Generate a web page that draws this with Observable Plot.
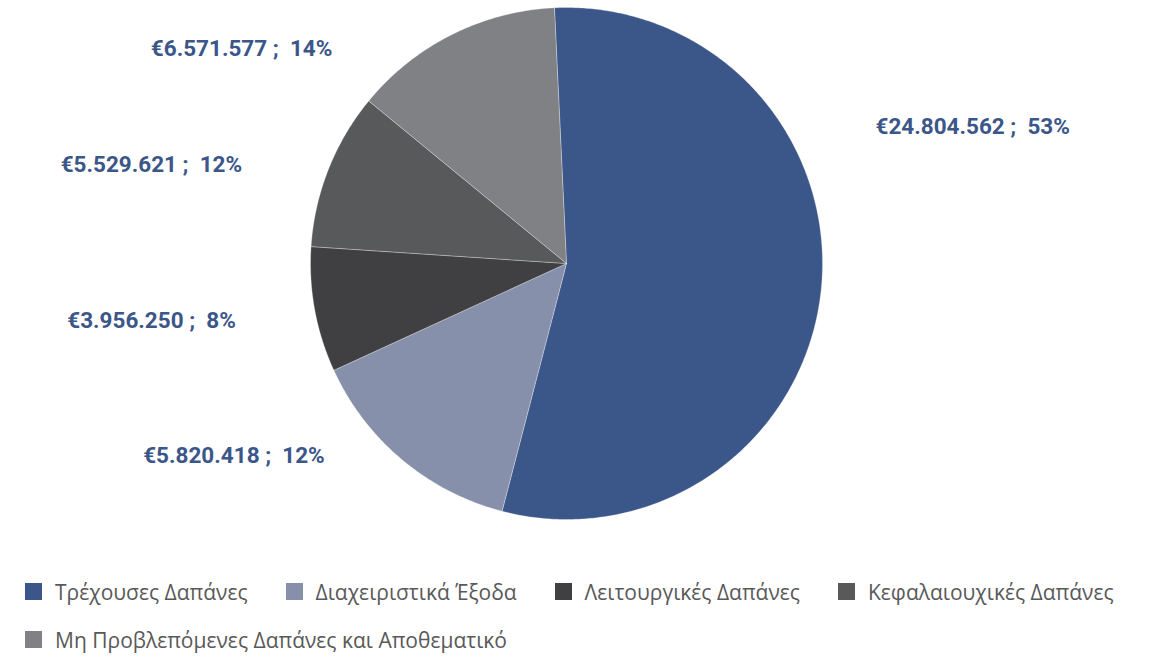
<!DOCTYPE html>
<html>
<head>
<meta charset="utf-8">
<script src="https://cdn.jsdelivr.net/npm/d3@7"></script>
<script src="https://cdn.jsdelivr.net/npm/@observablehq/plot@0.6"></script>
<style>
  html, body { margin: 0; padding: 0; background: #fff; }
  #chart { position: relative; width: 1149px; height: 658px; overflow: hidden; }
  #legend {
    position: absolute; left: 25px; top: 578px; width: 1120px;
    display: flex; flex-wrap: wrap; column-gap: 38px; row-gap: 21px;
    font-family: "Open Sans", "Noto Sans", sans-serif; font-size: 21px; color: #595959;
  }
  .item { display: flex; align-items: center; white-space: nowrap; height: 27px; }
  .sw { width: 17px; height: 17px; margin-right: 13px; }
</style>
</head>
<body>
<div id="chart"><div id="plot"></div><div id="legend"></div></div>
<script>
// Categories (clockwise from top)
const categories = [
  "Τρέχουσες Δαπάνες",
  "Διαχειριστικά Έξοδα",
  "Λειτουργικές Δαπάνες",
  "Κεφαλαιουχικές Δαπάνες",
  "Μη Προβλεπόμενες Δαπάνες και Αποθεματικό"
];
// Amounts and percentages as printed on the labels
const amounts = [24804562, 5820418, 3956250, 5529621, 6571577];
const labelPercents = [53, 12, 8, 12, 14];
// Slice sizes (%)
const sliceShares = [54.8, 14.1, 7.9, 9.9, 13.3];
const colors = ["#3B5689", "#8690AA", "#404042", "#58595B", "#808184"];

// Layout (not data): pie rotation and label placement in polar units of the radius
const startDeg = -2.7;
const labelAngleDeg = [71.4, 240.0, 262.2, 283.4, 303.5];
const labelRadius = [1.674, 1.50, 1.636, 1.667, 1.522];

const fmt = v => "€" + d3.format(",")(v).replace(/,/g, ".");
const total = d3.sum(sliceShares);

const rad = d => d * Math.PI / 180;
const polys = [];
let acc = startDeg;
categories.forEach((name, i) => {
  const a0 = acc, a1 = acc + sliceShares[i] / total * 360;
  acc = a1;
  polys.push({name, x: 0, y: 0, i});
  const n = Math.max(2, Math.ceil((a1 - a0) / 0.5));
  for (let k = 0; k <= n; k++) {
    const a = rad(a0 + (a1 - a0) * k / n);
    polys.push({name, x: Math.sin(a), y: Math.cos(a), i});
  }
  polys.push({name, x: 0, y: 0, i});
});

const labels = categories.map((name, i) => ({
  name,
  text: fmt(amounts[i]) + " ;  " + labelPercents[i] + "%",
  x: labelRadius[i] * Math.sin(rad(labelAngleDeg[i])),
  y: labelRadius[i] * Math.cos(rad(labelAngleDeg[i]))
}));

const plot = Plot.plot({
  width: 1149,
  height: 560,
  margin: 0,
  x: {domain: [-1, 1], range: [310, 822], axis: null},
  y: {domain: [-1, 1], range: [519, 7], axis: null},
  color: {type: "ordinal", domain: categories, range: colors},
  style: {background: "transparent"},
  marks: [
    Plot.line(polys, {x: "x", y: "y", z: "name", fill: "name", stroke: "#ffffff", strokeWidth: 0.6, strokeOpacity: 0.5, curve: "linear"}),
    Plot.text(labels, {x: "x", y: "y", text: "text", fill: "#3B5689", fontSize: 22.5, fontWeight: 700, fontFamily: "Roboto", textAnchor: "middle"})
  ]
});
document.getElementById("plot").appendChild(plot);

const legend = document.getElementById("legend");
categories.forEach((name, i) => {
  const it = document.createElement("div");
  it.className = "item";
  const sw = document.createElement("span");
  sw.className = "sw";
  sw.style.background = colors[i];
  const t = document.createElement("span");
  t.textContent = name;
  it.appendChild(sw); it.appendChild(t);
  legend.appendChild(it);
});
</script>
</body>
</html>
